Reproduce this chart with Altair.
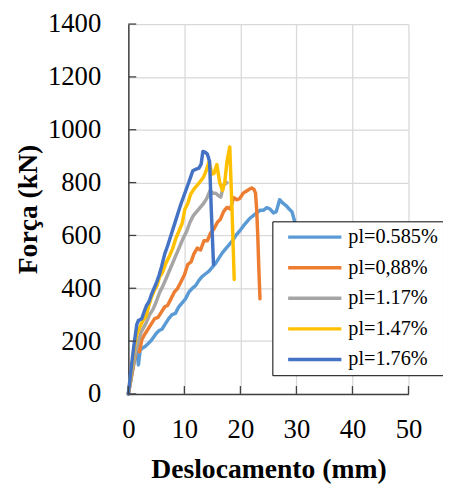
import altair as alt
import pandas as pd

FONT = "Liberation Serif"

series_names = ["pl=0.585%", "pl=0,88%", "pl=1.17%", "pl=1.47%", "pl=1.76%"]
series_colors = ["#5B9BD5", "#ED7D31", "#A5A5A5", "#FFC000", "#4472C4"]

x_ticks = [0, 10, 20, 30, 40, 50]
y_ticks = [0, 200, 400, 600, 800, 1000, 1200, 1400]

d_0585 = [0, 0.5, 1.0, 1.5, 1.8, 2.1, 2.6, 3.0, 3.5, 4.0, 4.5, 5.0, 5.5, 6.0, 6.6, 7.2, 7.8, 8.4, 9.0, 9.6,
          10.2, 10.8, 11.4, 12.0, 12.6, 13.2, 13.8, 14.4, 15.0, 15.6, 16.2, 16.8, 17.4, 18.0, 18.6, 19.2,
          19.8, 20.5, 21.1, 21.7, 22.3, 22.9, 23.5, 24.1, 24.7, 25.3, 25.9, 26.4, 27.0, 27.6, 28.2, 28.7,
          29.2, 29.6, 29.9]
f_0585 = [0, 60, 120, 170, 110, 165, 175, 180, 190, 200, 215, 230, 240, 245, 265, 285, 300, 305, 330, 345,
          360, 385, 400, 410, 430, 445, 455, 465, 480, 495, 515, 535, 550, 565, 580, 600,
          615, 635, 650, 665, 675, 685, 695, 695, 705, 700, 685, 690, 735, 722, 712, 700,
          690, 660, 630]

d_088 = [0, 0.6, 1.2, 1.6, 2.0, 2.4, 2.9, 3.5, 4.1, 4.7, 5.3, 5.9, 6.5, 7.0, 7.6, 8.2, 8.8, 9.4, 10.0, 10.6,
         11.2, 11.7, 12.3, 12.9, 13.5, 14.1, 14.7, 15.3, 15.9, 16.4, 17.0, 17.6, 18.2, 18.8, 19.4, 19.9,
         20.5, 21.1, 21.6, 22.0, 22.4, 22.7, 22.9, 23.1, 23.3, 23.5]
f_088 = [0, 70, 140, 195, 160, 205, 225, 245, 265, 285, 290, 310, 330, 335, 360, 385, 400, 425, 450, 490,
         500, 530, 552, 545, 580, 580, 610, 625, 650, 660, 690, 706, 700, 743, 735, 740,
         760, 768, 775, 780, 775, 760, 700, 600, 470, 360]

d_117 = [0, 0.6, 1.2, 1.8, 2.3, 2.7, 3.2, 3.8, 4.4, 5.0, 5.6, 6.2, 6.8, 7.4, 8.0, 8.6, 9.2, 9.8, 10.4, 11.0,
         11.6, 12.2, 12.8, 13.4, 14.0, 14.6, 15.1, 15.6, 16.1, 16.5, 17.0, 17.6]
f_117 = [0, 80, 150, 200, 235, 250, 270, 300, 320, 350, 385, 410, 440, 470, 500, 530, 560, 590, 615, 650,
         675, 690, 705, 720, 740, 770, 760, 760, 750, 745, 790, 800]

d_147 = [0, 0.6, 1.0, 1.5, 2.0, 2.6, 3.2, 3.6, 4.1, 4.6, 5.1, 5.6, 6.1, 6.7, 7.3, 7.9, 8.5, 9.1, 9.6, 10.1,
         10.6, 11.1, 11.7, 12.3, 12.9, 13.4, 13.9, 14.4, 14.9, 15.3, 15.8, 16.3, 16.8, 17.2, 17.6, 18.1,
         18.5, 18.9]
f_147 = [0, 100, 170, 225, 250, 278, 296, 330, 365, 390, 410, 445, 460, 495, 520, 550, 590, 620, 645, 700,
         720, 755, 775, 790, 806, 820, 845, 880, 832, 835, 868, 800, 770, 800, 880, 935,
         700, 433]

d_176 = [0, 0.5, 1.0, 1.5, 1.8, 2.4, 2.8, 3.2, 3.7, 4.1, 4.6, 5.0, 5.5, 5.9, 6.5, 7.0, 7.6, 8.2, 8.8, 9.4,
         10.0, 10.6, 11.1, 11.5, 12.0, 12.6, 13.0, 13.3, 13.7, 14.1, 14.5, 14.8, 15.2]
f_176 = [0, 95, 185, 262, 278, 285, 310, 333, 350, 375, 400, 420, 450, 480, 530, 560, 600, 640, 680, 720,
         755, 790, 820, 845, 850, 855, 870, 918, 915, 908, 880, 700, 490]

all_d = [d_0585, d_088, d_117, d_147, d_176]
all_f = [f_0585, f_088, f_117, f_147, f_176]

rows = []
for name, ds, fs in zip(series_names, all_d, all_f):
    assert len(ds) == len(fs), name
    for i, (d, f) in enumerate(zip(ds, fs)):
        rows.append({"serie": name, "d": d, "f": f, "i": i})
df = pd.DataFrame(rows)

xscale = alt.Scale(domain=[0, 50], nice=False, zero=False)
yscale = alt.Scale(domain=[0, 1400], nice=False, zero=False)

W, H = 284, 375

x_axis = alt.Axis(
    values=x_ticks, format="d", title="Deslocamento (mm)", grid=True, gridColor="#D9D9D9", gridWidth=1.3,
    ticks=False, tickSize=0, domainColor="#404040", domainWidth=1.5,
    labelFont=FONT, labelFontSize=27, labelColor="black", labelPadding=23,
    labelFlush=False, labelOverlap=False,
    titleFont=FONT, titleFontSize=28, titleFontWeight="bold", titleColor="black",
    titleX=W / 2, titleY=85, titleAlign="center", titleBaseline="alphabetic",
)
y_axis = alt.Axis(
    values=y_ticks, format="d", title="Força (kN)", grid=True, gridColor="#D9D9D9", gridWidth=1.3,
    ticks=False, tickSize=0, domainColor="#404040", domainWidth=1.5,
    labelFont=FONT, labelFontSize=27, labelColor="black", labelPadding=28,
    labelFlush=False, labelOverlap=False,
    titleFont=FONT, titleFontSize=28, titleFontWeight="bold", titleColor="black",
    titleX=-93, titleY=H / 2, titleAngle=270, titleAlign="center", titleBaseline="alphabetic",
)

legend = alt.Legend(
    title=None, orient="none", legendX=146, legendY=200,
    fillColor="white", strokeColor="black", padding=5, cornerRadius=0,
    symbolType="stroke", symbolSize=2916, symbolStrokeWidth=3.5,
    symbolOffset=9, labelOffset=5, clipHeight=22, rowPadding=9,
    labelFont=FONT, labelFontSize=20.5, labelColor="black",
    labelExpr="datum.label + '\u00a0\u00a0'",
)

lines = alt.Chart(df).mark_line(strokeWidth=3.5, strokeCap="round", strokeJoin="round").encode(
    x=alt.X("d:Q", scale=xscale, axis=x_axis),
    y=alt.Y("f:Q", scale=yscale, axis=y_axis),
    color=alt.Color("serie:N", scale=alt.Scale(domain=series_names, range=series_colors), legend=legend),
    order=alt.Order("i:Q"),
)

xt = alt.Chart(pd.DataFrame({"t": x_ticks})).mark_rule(color="#404040", strokeWidth=1.3).encode(
    x=alt.X("t:Q", scale=xscale, axis=x_axis),
    y=alt.value(H - 8), y2=alt.value(H),
)
yt = alt.Chart(pd.DataFrame({"t": y_ticks})).mark_rule(color="#404040", strokeWidth=1.3).encode(
    y=alt.Y("t:Q", scale=yscale, axis=y_axis),
    x=alt.value(0), x2=alt.value(8),
)

chart = alt.layer(lines, xt, yt).properties(
    width=W, height=H,
    autosize=alt.AutoSizeParams(type="none"),
    padding={"left": 122, "top": 13, "right": 35, "bottom": 88},
).configure_view(stroke=None)

chart.save("out.html", embed_options={"renderer": "svg", "actions": False})
